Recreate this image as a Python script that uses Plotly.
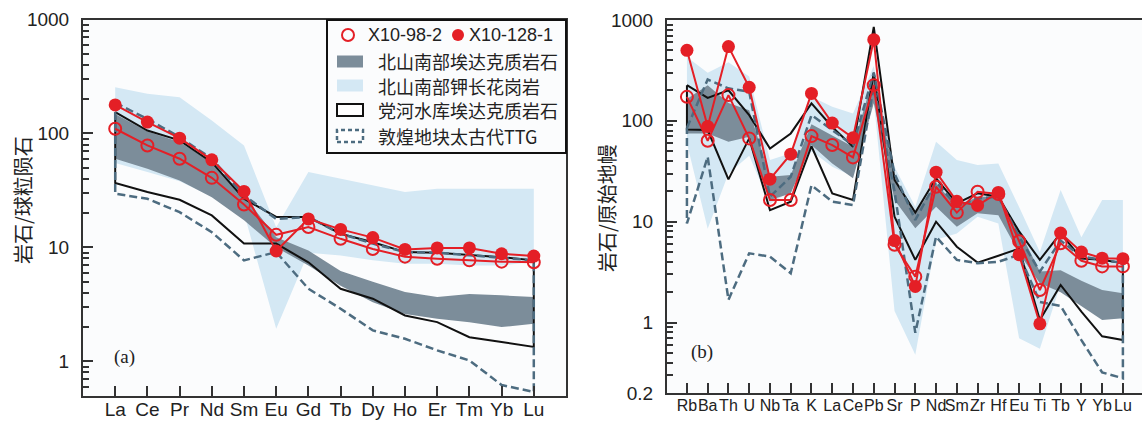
import plotly.graph_objects as go

W, H = 1142, 421

# ---------------- data: panel (a) chondrite-normalised REE ----------------
ree = ["La", "Ce", "Pr", "Nd", "Sm", "Eu", "Gd", "Tb", "Dy", "Ho", "Er", "Tm", "Yb", "Lu"]
a_x10_98_2 = [110, 78.5, 60, 40.8, 23.8, 12.9, 15.1, 11.9, 9.7, 8.3, 7.95, 7.7, 7.5, 7.4]
a_x10_128_1 = [178, 126, 91, 58.7, 31, 9.3, 17.8, 14.4, 12.2, 9.6, 9.9, 9.9, 8.8, 8.4]
a_adakite_hi = [148, 104, 84, 56, 28.6, 12.3, 9.4, 6.2, 5.0, 4.06, 3.67, 3.9, 3.8, 3.67]
a_adakite_lo = [60, 49, 38.7, 27.6, 17.3, 10.0, 6.95, 4.6, 3.3, 2.6, 2.37, 2.2, 2.0, 2.14]
a_granite_hi = [255, 223, 208, 130, 78.5, 15, 45.8, 40, 35, 30.6, 32.7, 32.7, 32.7, 32.7]
a_granite_lo = [55, 46, 38, 28, 20, 1.93, 9, 8.5, 7.7, 7.2, 7.2, 6.95, 6.95, 7.5]
a_danghe_hi = [154, 106, 87, 56, 26.7, 18.5, 18.5, 13.2, 11.1, 9.1, 9.0, 8.6, 8.2, 7.7]
a_danghe_lo = [36.7, 30.6, 26.2, 19.1, 10.8, 10.8, 7.4, 4.34, 3.55, 2.53, 2.21, 1.63, 1.48, 1.34]
a_ttg_hi = [186, 134, 93, 60, 28.6, 17.8, 18.5, 13.2, 10.8, 9.1, 9.0, 8.5, 8.1, 7.7]
a_ttg_lo = [29.6, 26.7, 20.4, 13.6, 7.7, 9.1, 4.34, 2.9, 1.87, 1.58, 1.25, 1.02, 0.62, 0.54]

# ---------------- data: panel (b) primitive-mantle-normalised ----------------
spider = ["Rb", "Ba", "Th", "U", "Nb", "Ta", "K", "La", "Ce", "Pb", "Sr", "P", "Nd", "Sm",
          "Zr", "Hf", "Eu", "Ti", "Tb", "Y", "Yb", "Lu"]
b_x10_98_2 = [173, 63.4, 180, 67, 16.4, 16.4, 70.6, 57.5, 43.4, 226, 5.9, 2.85, 22.2, 12.3,
              19.8, 18.8, 6.4, 2.1, 6.1, 4.1, 3.6, 3.6]
b_x10_128_1 = [500, 88, 545, 215, 26.4, 46.7, 187, 95, 68, 638, 6.5, 2.28, 31, 15.9,
               14.5, 19.5, 4.7, 0.97, 7.7, 5.0, 4.35, 4.3]
b_adakite_hi = [165, 226, 150, 127, 27.9, 29, 92.7, 72, 55.3, 283, 27.9, 12.1, 24, 14.1,
                17.7, 17.7, 8.3, 3.2, 3.3, 2.6, 2.1, 1.95]
b_adakite_lo = [75, 75, 62, 69.6, 16.4, 19, 57.5, 37.8, 26.9, 149, 16.4, 8.6, 14.1, 8.9,
                12.1, 11.6, 4.86, 2.45, 2.0, 1.45, 1.06, 1.1]
b_granite_hi = [430, 300, 380, 275, 40.8, 47.6, 173, 138, 118, 350, 35, 14.1, 62, 40.8,
                36.4, 37.8, 14, 5, 20.6, 7, 16.4, 16.4]
b_granite_lo = [60, 8.5, 30, 45, 15, 20, 50, 35, 28, 160, 1.3, 0.48, 6.6, 7.65,
                11.2, 9.6, 0.7, 0.55, 2.4, 1.8, 1.1, 1.1]
b_danghe_hi = [226, 169, 201, 114, 53, 75, 149, 87, 55.3, 853, 25.9, 12.3, 26.9, 15.2,
               19.1, 17.7, 8.0, 4.18, 7.7, 4.3, 4.2, 3.87]
b_danghe_lo = [82, 81, 26.3, 67, 13, 15.8, 56, 19.1, 16.4, 300, 11.2, 4.18, 10, 5.65,
               3.93, 4.6, 5.4, 1.06, 2.36, 1.28, 0.73, 0.67]
b_ttg_hi = [85, 257, 210, 194, 17.7, 27.9, 114, 81, 57.5, 300, 30, 10.4, 24.9, 14.1,
            17, 17.7, 7.1, 3.2, 6.5, 4.5, 4.2, 3.9]
b_ttg_lo = [9.6, 44, 1.68, 4.86, 4.5, 3.08, 23, 15.8, 14.6, 220, 20, 0.79, 7.1, 4.18,
            3.87, 4.0, 4.7, 1.6, 1.46, 0.67, 0.32, 0.28]

legend_samples = ["X10-98-2", "X10-128-1"]
legend_fields = ["北山南部埃达克质岩石", "北山南部钾长花岗岩", "党河水库埃达克质岩石", "敦煌地块太古代TTG"]

RED = "#e41f26"
DARK = "#7c8d9a"
LIGHT = "#d4e8f4"
DASH = "#4d6c80"
BLACK = "#111111"
BG = "#fbfcfd"
LATIN = "Liberation Sans, Arial, sans-serif"
CJK = "Noto Sans CJK SC, sans-serif"


def band(hi, lo):
    n = len(hi)
    xs = list(range(n)) + list(range(n - 1, -1, -1))
    ys = list(hi) + list(lo[::-1])
    return xs, ys


def closed(hi, lo):
    xs, ys = band(hi, lo)
    return xs + [0], ys + [hi[0]]


fig = go.Figure()


def add_panel(xa, ya, granite, adakite, danghe, ttg, s_open, s_fill):
    gx, gy = band(*granite)
    fig.add_trace(go.Scatter(x=gx, y=gy, fill="toself", fillcolor=LIGHT, line=dict(width=0),
                             mode="lines", hoverinfo="skip", xaxis=xa, yaxis=ya))
    dx, dy = band(*adakite)
    fig.add_trace(go.Scatter(x=dx, y=dy, fill="toself", fillcolor=DARK, line=dict(width=0),
                             mode="lines", hoverinfo="skip", xaxis=xa, yaxis=ya))
    bx, by = closed(*danghe)
    fig.add_trace(go.Scatter(x=bx, y=by, mode="lines", line=dict(color=BLACK, width=2),
                             xaxis=xa, yaxis=ya))
    tx, ty = closed(*ttg)
    fig.add_trace(go.Scatter(x=tx, y=ty, mode="lines",
                             line=dict(color=DASH, width=2.5, dash="8px,4px"),
                             xaxis=xa, yaxis=ya))
    n = len(s_open)
    fig.add_trace(go.Scatter(x=list(range(n)), y=s_open, mode="lines+markers",
                             line=dict(color=RED, width=2),
                             marker=dict(symbol="circle-open", size=12, color=RED,
                                         line=dict(width=2, color=RED)),
                             xaxis=xa, yaxis=ya))
    fig.add_trace(go.Scatter(x=list(range(n)), y=s_fill, mode="lines+markers",
                             line=dict(color=RED, width=2),
                             marker=dict(symbol="circle", size=13, color=RED),
                             xaxis=xa, yaxis=ya))


add_panel("x", "y", (a_granite_hi, a_granite_lo), (a_adakite_hi, a_adakite_lo),
          (a_danghe_hi, a_danghe_lo), (a_ttg_hi, a_ttg_lo), a_x10_98_2, a_x10_128_1)
add_panel("x2", "y2", (b_granite_hi, b_granite_lo), (b_adakite_hi, b_adakite_lo),
          (b_danghe_hi, b_danghe_lo), (b_ttg_hi, b_ttg_lo), b_x10_98_2, b_x10_128_1)


def px(x):
    return x / W


def py(y):
    return 1 - y / H


minor_a = [m * 10 ** k for k in (-1, 0, 1, 2) for m in range(2, 10) if 0.5 <= m * 10 ** k < 1000]
minor_b = [m * 10 ** k for k in (-1, 0, 1, 2) for m in range(2, 10) if 0.2 <= m * 10 ** k < 1000]

axis_common = dict(showline=True, linewidth=2, linecolor="#333", showgrid=False, zeroline=False,
                   ticks="inside", tickcolor="#333", tickwidth=2, ticklen=10, automargin=False)

fig.update_layout(
    width=W, height=H, margin=dict(l=0, r=0, t=0, b=0, pad=0),
    paper_bgcolor="white", plot_bgcolor=BG, showlegend=False,
    xaxis=dict(domain=[px(83), px(566)], range=[-1, 14], tickvals=list(range(len(ree))),
               ticktext=ree, mirror=True, tickangle=0,
               tickfont=dict(family=LATIN, size=19, color="#222"),
               ticklabelstandoff=-5, **axis_common),
    yaxis=dict(domain=[py(395.7), py(19.5)], type="log", range=[-0.30103, 3],
               tickvals=[1, 10, 100, 1000], ticktext=["1", "10", "100", "1000"], mirror=True,
               minor=dict(tickvals=minor_a, ticks="inside", ticklen=6, tickwidth=2, tickcolor="#333"),
               tickfont=dict(family=LATIN, size=19, color="#222"), ticklabelstandoff=8,
               **axis_common),
    xaxis2=dict(domain=[px(667), 1.0], range=[-0.96, 21.92], tickvals=list(range(len(spider))),
                ticktext=spider, mirror=True, anchor="y2", tickangle=0,
                tickfont=dict(family="Liberation Sans Narrow, Arial Narrow, " + LATIN, size=16,
                              color="#222"),
                ticklabelstandoff=-3, **axis_common),
    yaxis2=dict(domain=[py(393), py(20)], type="log", range=[-0.69897, 3], anchor="x2",
                tickvals=[0.2, 1, 10, 100, 1000], ticktext=["0.2", "1", "10", "100", "1000"],
                minor=dict(tickvals=minor_b, ticks="inside", ticklen=6, tickwidth=2, tickcolor="#333"),
                tickfont=dict(family=LATIN, size=19, color="#222"), ticklabelstandoff=8,
                **axis_common),
)


def note(x, y, text, font, xanchor="center", angle=0):
    return dict(x=px(x), y=py(y), xref="paper", yref="paper", text=text, showarrow=False,
                xanchor=xanchor, yanchor="middle", textangle=angle, font=font)


ann = []
ann.append(note(22, 200, "岩石/球粒陨石", dict(family=CJK, size=20, color="#222"), angle=-90))
ann.append(note(606, 208, "岩石/原始地幔", dict(family=CJK, size=20, color="#222"), angle=-90))
serif = dict(family="Liberation Serif, Times New Roman, serif", size=19, color="#222")
ann.append(note(124, 357, "(a)", serif))
ann.append(note(702, 352, "(b)", serif))

shapes = []
# legend box
shapes.append(dict(type="rect", xref="paper", yref="paper", x0=px(327), x1=px(566),
                   y0=py(153), y1=py(20), line=dict(color=BLACK, width=2), fillcolor=BG, layer="above"))
# row 1: sample markers
for cx, filled, label, tx in [(348, False, legend_samples[0], 366), (458, True, legend_samples[1], 467)]:
    shapes.append(dict(type="circle", xref="paper", yref="paper", xsizemode="pixel", ysizemode="pixel",
                       xanchor=px(cx), yanchor=py(35), x0=-6, x1=6, y0=-6, y1=6,
                       line=dict(color=RED, width=2 if not filled else 0),
                       fillcolor=RED if filled else "rgba(0,0,0,0)", layer="above"))
    ann.append(note(tx, 35, label, dict(family=LATIN, size=18, color="#222"), xanchor="left"))
rows_y = [61.5, 85.5, 110, 136]
styles = [dict(fillcolor=DARK, line=dict(width=0)),
          dict(fillcolor=LIGHT, line=dict(width=0)),
          dict(fillcolor="white", line=dict(color=BLACK, width=2)),
          dict(fillcolor="white", line=dict(color=DASH, width=2.5, dash="4px,3px"))]
for yy, st, label in zip(rows_y, styles, legend_fields):
    shapes.append(dict(type="rect", xref="paper", yref="paper", x0=px(337), x1=px(363),
                       y0=py(yy + 6), y1=py(yy - 6), layer="above", **st))
    ann.append(note(376, yy, label, dict(family=CJK, size=18, color="#222"), xanchor="left"))

fig.update_layout(annotations=ann, shapes=shapes)
fig.write_html("out.html")
